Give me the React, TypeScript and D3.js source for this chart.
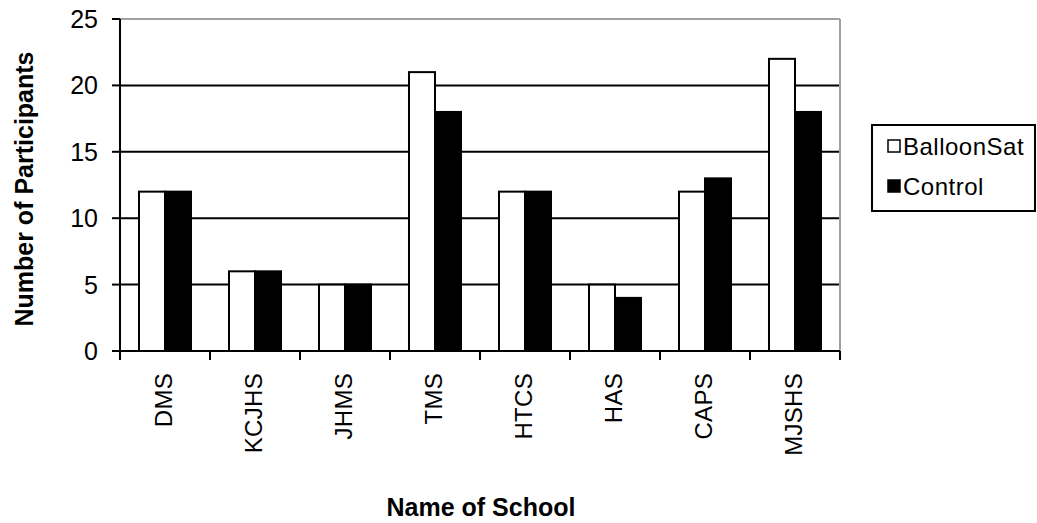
import React from 'react';
import * as d3 from 'd3';

const schools = ['DMS', 'KCJHS', 'JHMS', 'TMS', 'HTCS', 'HAS', 'CAPS', 'MJSHS'];
const balloonSat = [12, 6, 5, 21, 12, 5, 12, 22];
const control = [12, 6, 5, 18, 12, 4, 13, 18];
const seriesNames = ['BalloonSat', 'Control'];
const yTicks = [0, 5, 10, 15, 20, 25];

const width = 1037;
const height = 523;
const margin = { top: 19, right: 197, bottom: 172, left: 120 };
const font = '"Liberation Sans", Arial, sans-serif';

export default function App() {
  const innerW = width - margin.left - margin.right;
  const innerH = height - margin.top - margin.bottom;

  const x0 = d3.scaleBand<string>().domain(schools).range([0, innerW]).padding(0);
  const x1 = d3
    .scaleBand<string>()
    .domain(seriesNames)
    .range([0, x0.bandwidth()])
    .paddingInner(0)
    .paddingOuter(0.73);
  const y = d3.scaleLinear().domain([0, 25]).range([innerH, 0]);

  const values = [balloonSat, control];
  const fills = ['#ffffff', '#000000'];

  return (
    <svg
      width={width}
      height={height}
      style={{ position: 'absolute', left: 0, top: 0, background: '#fff' }}
      fontFamily={font}
    >
      <g transform={`translate(${margin.left},${margin.top})`}>
        {/* gridlines */}
        {yTicks.slice(1, -1).map((t) => (
          <line key={t} x1={0} x2={innerW} y1={y(t)} y2={y(t)} stroke="#000" strokeWidth={2} />
        ))}
        {/* plot border top/right */}
        <line x1={0} x2={innerW} y1={y(25)} y2={y(25)} stroke="#a0a0a0" strokeWidth={2} />
        <line x1={innerW} x2={innerW} y1={y(25)} y2={innerH} stroke="#a0a0a0" strokeWidth={2} />

        {/* bars */}
        {schools.map((s, i) => (
          <g key={s} transform={`translate(${x0(s)},0)`}>
            {seriesNames.map((name, k) => (
              <rect
                key={name}
                x={x1(name)}
                y={y(values[k][i])}
                width={x1.bandwidth()}
                height={innerH - y(values[k][i])}
                fill={fills[k]}
                stroke="#000"
                strokeWidth={2}
              />
            ))}
          </g>
        ))}

        {/* y axis */}
        <line x1={0} x2={0} y1={y(25)} y2={innerH + 9} stroke="#000" strokeWidth={2} />
        {yTicks.map((t) => (
          <g key={t}>
            <line x1={-8} x2={0} y1={y(t)} y2={y(t)} stroke="#000" strokeWidth={2} />
            <text
              x={-22}
              y={y(t)}
              textAnchor="end"
              dominantBaseline="central"
              fontSize={25}
              fill="#000"
            >
              {t}
            </text>
          </g>
        ))}

        {/* x axis */}
        <line x1={0} x2={innerW} y1={innerH} y2={innerH} stroke="#000" strokeWidth={2} />
        {schools.map((s) => (
          <line
            key={s}
            x1={(x0(s) as number) + x0.bandwidth()}
            x2={(x0(s) as number) + x0.bandwidth()}
            y1={innerH}
            y2={innerH + 9}
            stroke="#000"
            strokeWidth={2}
          />
        ))}
        {schools.map((s) => {
          const cx = (x0(s) as number) + x0.bandwidth() / 2 - 2;
          const ty = innerH + 22;
          return (
            <text
              key={s}
              transform={`translate(${cx},${ty}) rotate(-90)`}
              textAnchor="end"
              dominantBaseline="central"
              fontSize={24}
              letterSpacing={0.3}
              fill="#000"
            >
              {s}
            </text>
          );
        })}
      </g>

      {/* axis titles */}
      <text
        transform={`translate(24,189) rotate(-90)`}
        textAnchor="middle"
        dominantBaseline="central"
        fontSize={25}
        fontWeight="bold"
        fill="#000"
      >
        Number of Participants
      </text>
      <text x={481} y={516} textAnchor="middle" fontSize={25} fontWeight="bold" fill="#000">
        Name of School
      </text>

      {/* legend */}
      <g>
        <rect x={872} y={125} width={163} height={86} fill="#fff" stroke="#000" strokeWidth={2} />
        {seriesNames.map((name, k) => (
          <g key={name} transform={`translate(888,${140 + k * 40})`}>
            <rect x={0} y={0} width={12} height={12} fill={fills[k]} stroke="#000" strokeWidth={1.5} />
            <text
              x={15}
              y={6}
              dominantBaseline="central"
              fontSize={24}
              letterSpacing={0.5}
              fill="#000"
            >
              {name}
            </text>
          </g>
        ))}
      </g>
    </svg>
  );
}
